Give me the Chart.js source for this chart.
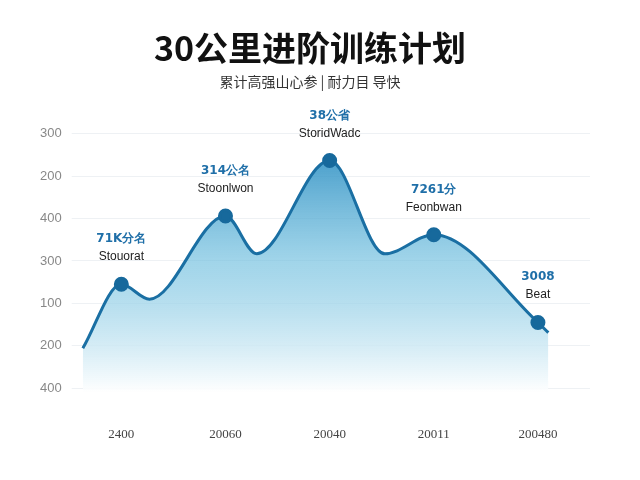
<!DOCTYPE html>
<html><head><meta charset="utf-8">
<script src="https://cdn.jsdelivr.net/npm/chart.js@4"></script>
<style>html,body{margin:0;background:#fff}#w{width:640px;height:480px}</style>
</head><body><div id="w"><canvas id="c"></canvas></div>
<script>
const xPos = [-0.37, 0, 0.27, 1, 1.3, 2, 2.53, 3, 4, 4.1];
const yVals = [0.94, 2.45, 2.1, 4.06, 3.17, 5.37, 3.17, 3.62, 1.55, 1.31];
const markerIdx = [1, 3, 5, 7, 8];
const xTickLabels = ['2400', '20060', '20040', '20011', '200480'];
const yTickLabels = ['400', '200', '100', '300', '400', '200', '300'];
const valueLabels = ['71K分名', '314公名', '38公省', '7261分', '3008'];
const nameLabels = ['Stouorat', 'Stoonlwon', 'StoridWadc', 'Feonbwan', 'Beat'];

const pts = xPos.map((x, i) => ({x, y: yVals[i]}));
const radii = xPos.map((_, i) => markerIdx.includes(i) ? 6 : 0);

const labelPlugin = {
  id: 'lbl',
  afterDatasetsDraw(chart) {
    const ctx = chart.ctx, meta = chart.getDatasetMeta(0);
    markerIdx.forEach((di, k) => {
      const el = meta.data[di];
      ctx.save();
      ctx.textAlign = 'center';
      ctx.fillStyle = '#1f6fa8';
      ctx.font = 'bold 12px "DejaVu Sans"';
      ctx.fillText(valueLabels[k], el.x, el.y - 42);
      ctx.fillStyle = '#222';
      ctx.font = '12px "Liberation Sans"';
      ctx.fillText(nameLabels[k], el.x, el.y - 24);
      ctx.restore();
    });
  }
};

new Chart(document.getElementById('c'), {
  type: 'line',
  data: { datasets: [{
    data: pts,
    borderColor: '#1a6fa3',
    borderWidth: 3,
    tension: 0.4,
    cubicInterpolationMode: 'monotone',
    pointRadius: radii,
    pointBackgroundColor: '#17699c',
    pointBorderColor: '#17699c',
    fill: 'start',
    backgroundColor: (c) => {
      const a = c.chart.chartArea;
      if (!a) return 'rgba(80,170,210,0.5)';
      const g = c.chart.ctx.createLinearGradient(0, a.top, 0, a.bottom);
      g.addColorStop(0, 'rgba(35,135,190,0.95)');
      g.addColorStop(0.5, 'rgba(110,190,222,0.65)');
      g.addColorStop(1, 'rgba(255,255,255,0.9)');
      return g;
    }
  }]},
  options: {
    responsive: true, maintainAspectRatio: false, animation: false,
    layout: { padding: { left: 30, right: 50, top: 14, bottom: 12 } },
    plugins: {
      legend: { display: false }, tooltip: { enabled: false },
      title: { display: true, text: '30公里进阶训练计划', color: '#111',
        font: { size: 34, weight: 'bold', family: '"Noto Sans CJK SC"' }, padding: { top: 14, bottom: 4 } },
      subtitle: { display: true, text: '累计高强山心参 | 耐力目 导快', color: '#333',
        font: { size: 14, family: '"Noto Sans CJK SC"' }, padding: { bottom: 40 } }
    },
    scales: {
      x: { type: 'linear', min: -0.4, max: 4.5,
        grid: { display: false }, border: { display: false },
        afterBuildTicks: (s) => { s.ticks = [0,1,2,3,4].map(v => ({value: v})); },
        ticks: { color: '#444', font: { size: 13, family: '"Liberation Serif"' }, padding: 26,
          callback: (v) => xTickLabels[v] } },
      y: { min: -0.1, max: 6.1,
        grid: { color: '#eef1f4' }, border: { display: false },
        afterBuildTicks: (s) => { s.ticks = [0,1,2,3,4,5,6].map(v => ({value: v})); },
        ticks: { color: '#888', font: { size: 13 }, padding: 10,
          callback: (v) => yTickLabels[v] } }
    }
  },
  plugins: [labelPlugin]
});
</script></body></html>
